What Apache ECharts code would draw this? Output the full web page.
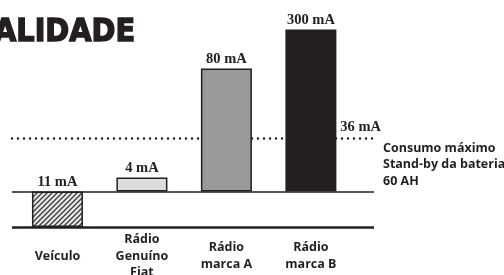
<!DOCTYPE html>
<html><head><meta charset="utf-8">
<script src="https://cdn.jsdelivr.net/npm/echarts@6/dist/echarts.min.js"></script>
<style>html,body{margin:0;padding:0;background:#fff}#c{width:504px;height:275px}</style>
</head><body><div id="c"></div>
<script>
// categories and labels
const categories = ['Veículo', 'Rádio\nGenuíno\nFiat', 'Rádio\nmarca A', 'Rádio\nmarca B'];
const valueLabels = ['11 mA', '4 mA', '80 mA', '300 mA'];
// schematic bar heights as drawn (not to scale in the original)
const barHeights = [-35.5, 14, 123.5, 162.5];
const limitHeight = 53.5;
const limitLabel = '36 mA';
const floorLevel = -35.5;
const noteLines = ['Consumo máximo', 'Stand-by da bateria', '60 AH'];
const titleText = 'ALIDADE';

function makeHatch() {
  const c = document.createElement('canvas');
  c.width = 5; c.height = 5;
  const ctx = c.getContext('2d');
  ctx.fillStyle = '#e8e8e8'; ctx.fillRect(0, 0, 5, 5);
  ctx.strokeStyle = '#3a3a3a'; ctx.lineWidth = 1.3;
  ctx.beginPath();
  ctx.moveTo(-1, 6); ctx.lineTo(6, -1);
  ctx.moveTo(-1, 1); ctx.lineTo(1, -1);
  ctx.moveTo(4, 6); ctx.lineTo(6, 4);
  ctx.stroke();
  return c;
}
const fills = [{ image: makeHatch(), repeat: 'repeat' }, '#dcdcdc', '#9a9a9a', '#231f20'];
const ink = '#231f20';
const sans = '"Open Sans", sans-serif';
const serif = '"Liberation Serif", serif';

const chart = echarts.init(document.getElementById('c'));
chart.setOption({
  animation: false,
  title: { text: titleText, left: -11, top: 12, textStyle: { fontSize: 32, fontWeight: 'bold', fontFamily: '"DejaVu Sans Condensed", "DejaVu Sans"', color: ink,
    textBorderColor: ink, textBorderWidth: 1.4 } },
  grid: { left: 12, right: 130, top: 29, bottom: 48, containLabel: false, outerBoundsMode: 'none' },
  xAxis: {
    type: 'value', min: 0.462, max: 4.747,
    splitLine: { show: false }, axisLine: { show: false }, axisTick: { show: false },
    axisLabel: {
      customValues: [1, 2, 3, 4],
      formatter: v => categories[Math.round(v) - 1] || '',
      fontFamily: sans, fontWeight: 'bold', fontSize: 12.5, color: ink,
      lineHeight: 16.5, verticalAlign: 'middle', margin: 29
    }
  },
  yAxis: { type: 'value', min: -35.5, max: 163, show: false, splitLine: { show: false } },
  graphic: [{
    type: 'text', left: 383, top: 140,
    style: { text: noteLines.join('\n'), font: 'bold 12.5px ' + sans, lineHeight: 16.5, fill: ink }
  }],
  series: [{
    type: 'bar', z: 10, barWidth: 51,
    data: barHeights.map((h, i) => ({
      value: [i + 1, h],
      itemStyle: { color: fills[i], borderColor: ink, borderWidth: 1.5 },
      label: { show: true, position: 'top', distance: 2, formatter: valueLabels[i],
        fontFamily: serif, fontWeight: 'bold', fontSize: 14.5, color: ink }
    })),
    markLine: {
      z: 1, silent: true, symbol: 'none', animation: false,
      data: [
        { yAxis: 0, lineStyle: { color: ink, width: 1.5, type: 'solid' }, label: { show: false } },
        { yAxis: floorLevel, lineStyle: { color: ink, width: 2.5, type: 'solid' }, label: { show: false } },
        { yAxis: limitHeight, lineStyle: { color: ink, width: 2.5, type: [0, 6], cap: 'round' },
          label: { show: true, position: 'insideEndTop', formatter: limitLabel, distance: [-7, 3],
            fontFamily: serif, fontWeight: 'bold', fontSize: 14.5, color: ink } }
      ]
    }
  }]
});
</script></body></html>
